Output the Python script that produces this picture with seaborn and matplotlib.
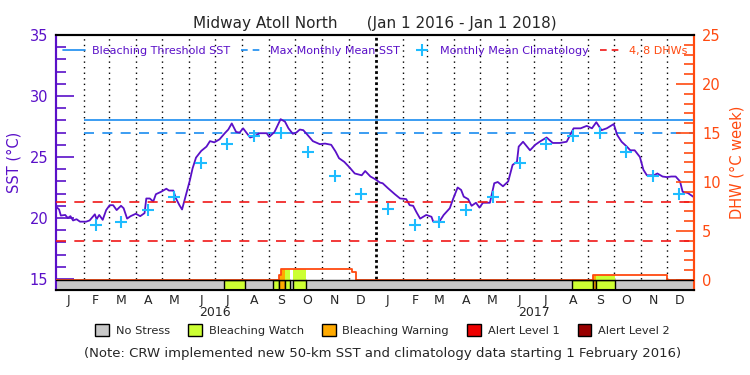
import pandas as pd
import numpy as np
import seaborn as sns
import matplotlib
matplotlib.use('Agg')
import matplotlib.pyplot as plt
from matplotlib.lines import Line2D
from matplotlib.patches import Patch

# ---- data ----
sst_dates = [
    '2016-01-01', '2016-01-04', '2016-01-06', '2016-01-11', '2016-01-14', '2016-01-17', '2016-01-20',
    '2016-01-24', '2016-01-28', '2016-02-04', '2016-02-08', '2016-02-11', '2016-02-14', '2016-02-16',
    '2016-02-19', '2016-02-23', '2016-02-27', '2016-03-02', '2016-03-06', '2016-03-10', '2016-03-15',
    '2016-03-18', '2016-03-22', '2016-03-26', '2016-04-01', '2016-04-06', '2016-04-11', '2016-04-13',
    '2016-04-17', '2016-04-21', '2016-04-24', '2016-04-30', '2016-05-06', '2016-05-09', '2016-05-14',
    '2016-05-17', '2016-05-21', '2016-05-24', '2016-05-27', '2016-05-30', '2016-06-02', '2016-06-05',
    '2016-06-09', '2016-06-15', '2016-06-21', '2016-06-25', '2016-06-30', '2016-07-06', '2016-07-12',
    '2016-07-16', '2016-07-20', '2016-07-25', '2016-07-29', '2016-08-02', '2016-08-10', '2016-08-15',
    '2016-08-21', '2016-08-29', '2016-09-01', '2016-09-07', '2016-09-14', '2016-09-19', '2016-09-23',
    '2016-09-28', '2016-10-02', '2016-10-06', '2016-10-10', '2016-10-15', '2016-10-21', '2016-10-29',
    '2016-11-04', '2016-11-11', '2016-11-16', '2016-11-20', '2016-11-26', '2016-12-02', '2016-12-08',
    '2016-12-16', '2016-12-20', '2016-12-26', '2016-12-31',
    '2017-01-06', '2017-01-09', '2017-01-15', '2017-01-23', '2017-01-29', '2017-02-05', '2017-02-09',
    '2017-02-13', '2017-02-17', '2017-02-21', '2017-02-28', '2017-03-06', '2017-03-08', '2017-03-15',
    '2017-03-20', '2017-03-27', '2017-03-31', '2017-04-05', '2017-04-09', '2017-04-12', '2017-04-17',
    '2017-04-21', '2017-04-26', '2017-04-30', '2017-05-04', '2017-05-12', '2017-05-17', '2017-05-21',
    '2017-05-27', '2017-06-02', '2017-06-07', '2017-06-12', '2017-06-14', '2017-06-19', '2017-06-27',
    '2017-07-03', '2017-07-08', '2017-07-16', '2017-07-23', '2017-07-31', '2017-08-08', '2017-08-16',
    '2017-08-24', '2017-08-31', '2017-09-06', '2017-09-11', '2017-09-17', '2017-09-23', '2017-10-01',
    '2017-10-05', '2017-10-10', '2017-10-16', '2017-10-20', '2017-10-25', '2017-10-31', '2017-11-04',
    '2017-11-08', '2017-11-16', '2017-11-20', '2017-11-26', '2017-12-01', '2017-12-06', '2017-12-11',
    '2017-12-16', '2017-12-19', '2017-12-25', '2017-12-31',
]
sst_values = [
    20.9, 20.7, 20.2, 20.25, 20.0, 20.15, 19.8,
    19.9, 19.7, 19.7, 19.8, 20.05, 20.3, 19.9,
    20.25, 19.85, 20.65, 21.05, 21.05, 20.65, 21.0,
    20.8, 19.95, 20.15, 20.35, 20.15, 20.4, 21.6,
    21.6, 21.35, 21.95, 22.15, 22.4, 22.25, 22.25,
    21.6, 21.05, 20.7, 21.5, 22.3, 23.1, 24.05,
    24.95, 25.5, 25.85, 26.3, 26.2, 26.45, 26.95,
    27.25, 27.75, 27.05, 27.0, 27.35, 26.6, 26.7,
    26.95, 26.95, 26.65, 27.05, 28.1, 27.9, 27.35,
    26.9, 27.0, 27.25, 27.2, 26.8, 26.3, 26.05,
    26.1, 26.0, 25.45, 24.9, 24.6, 24.15, 23.65,
    23.5, 23.85, 23.4, 23.2,
    22.9, 22.85, 22.45, 21.95, 21.6, 21.55, 21.05,
    21.0, 20.45, 19.95, 20.25, 20.1, 19.7, 19.7,
    20.25, 20.8, 21.6, 22.5, 22.3, 21.75, 21.55,
    21.0, 21.25, 20.85, 21.25, 21.25, 22.85, 22.95,
    22.6, 23.0, 24.35, 24.6, 25.85, 26.25, 25.55,
    26.0, 26.25, 26.6, 26.15, 26.15, 26.25, 27.35,
    27.35, 27.55, 27.35, 27.85, 27.2, 27.35, 27.7,
    26.8, 26.25, 25.85, 25.55, 25.55, 25.0, 23.95,
    23.5, 23.5, 23.65, 23.4, 23.35, 23.4, 23.4,
    23.0, 22.15, 22.05, 21.75,
]

# monthly mean climatology (crosses), Feb 2016 .. Dec 2017
clim_dates = ['2016-%02d-15' % m for m in range(2, 13)] + ['2017-%02d-15' % m for m in range(1, 13)]
clim_month = [20.7, 19.4, 19.7, 20.65, 21.7, 24.5, 26.05, 26.7, 27.0, 25.4, 23.45, 21.95]  # Jan..Dec
clim_values = clim_month[1:] + clim_month

mmm = 27.0
bleaching_threshold = 28.0
dhw_lines = [4, 8]

# degree heating weeks (step changes)
dhw_dates = ['2016-01-01', '2016-09-12', '2016-09-15', '2016-12-05', '2016-12-09',
             '2017-09-07', '2017-12-01', '2018-01-01']
dhw_values = [0, 0.55, 1.1, 0.82, 0, 0.5, 0, 0]

# bleaching alert status periods (1=watch, 2=warning)
stress_start = ['2016-07-11', '2016-09-05', '2016-09-12', '2016-09-19', '2016-09-28',
                '2017-08-14', '2017-09-07', '2017-09-11']
stress_end = ['2016-08-04', '2016-09-12', '2016-09-19', '2016-09-25', '2016-10-13',
              '2017-09-07', '2017-09-11', '2017-10-02']
stress_level = [1, 1, 2, 1, 1, 1, 2, 1]

stress_names = ['No Stress', 'Bleaching Watch', 'Bleaching Warning', 'Alert Level 1', 'Alert Level 2']
stress_colors = ['#c8c8c8', '#ccff33', '#ffaa00', '#ee0000', '#990000']

month_letters = ['J', 'F', 'M', 'A', 'M', 'J', 'J', 'A', 'S', 'O', 'N', 'D'] * 2
years = ['2016', '2017']

PURPLE = '#5a10c8'
ORANGE = '#ff4a10'
BLUE = '#1a8cf0'
CYAN = '#1ebcff'
RED = '#f01818'

sns.set_style('white')
plt.rcParams['font.family'] = ['DejaVu Sans']

fig = plt.figure(figsize=(7.5, 3.75), dpi=100)
ax = fig.add_axes([0.0753, 0.2267, 0.8500, 0.6800])
ax2 = ax.twinx()

t0, t1 = pd.Timestamp('2016-01-01'), pd.Timestamp('2018-01-01')
sst_bot = 14.1
dhw_bot = -1.02

sst_df = pd.DataFrame({'date': pd.to_datetime(sst_dates), 'sst': sst_values})
clim_df = pd.DataFrame({'date': pd.to_datetime(clim_dates), 'clim': clim_values})

# month grid
month_starts = pd.date_range('2016-02-01', '2017-12-01', freq='MS')
for d in month_starts:
    if d == pd.Timestamp('2017-01-01'):
        ax.vlines(d, 15, 35, colors='black', linestyles=(0, (1, 1)), lw=2, zorder=1)
    else:
        ax.vlines(d, 15, 35, colors='black', linestyles=(0, (1, 3)), lw=1, zorder=1)

ax.hlines(bleaching_threshold, pd.Timestamp('2016-02-01'), t1, color=BLUE, lw=1.2, zorder=2)
ax.hlines(mmm, pd.Timestamp('2016-02-01'), t1, color=BLUE, lw=1.2, linestyles=(0, (6, 5)), zorder=2)

sns.lineplot(data=sst_df, x='date', y='sst', ax=ax, color=PURPLE, lw=1.3, zorder=3)
sns.scatterplot(data=clim_df, x='date', y='clim', ax=ax, marker='+', s=70, linewidth=1.5,
                color=CYAN, zorder=4)

# stress bar
ax2.fill_between([t0, t1], dhw_bot, 0, color=stress_colors[0], lw=0, zorder=1)
dhw_daily = pd.Series(dhw_values, index=pd.to_datetime(dhw_dates)).resample('D').ffill()
for s, e, lev in zip(stress_start, stress_end, stress_level):
    s, e = pd.Timestamp(s), pd.Timestamp(e)
    ax2.fill_between([s, e], dhw_bot, 0, facecolor=stress_colors[lev], edgecolor='black', lw=1, zorder=2)
    seg = dhw_daily[s:e]
    ax2.fill_between(seg.index, 0, seg.values, step='post', color=stress_colors[lev], lw=0, zorder=2)

ax2.step(pd.to_datetime(dhw_dates), dhw_values, where='post', color=ORANGE, lw=1.3, zorder=4)
ax2.axhline(0, color='black', lw=1, zorder=5)
for v in dhw_lines:
    ax2.axhline(v, color=RED, lw=1.2, ls=(0, (6, 5)), zorder=3)

ax.set_xlim(t0, t1)
ax.set_ylim(sst_bot, 35)
ax2.set_ylim(dhw_bot, 25)

# axes styling
ax.set_yticks(range(15, 36, 5))
ax.set_yticks(range(15, 36), minor=True)
ax.tick_params(axis='y', which='both', direction='in', color=PURPLE, labelcolor=PURPLE,
               width=1.2, labelsize=10.5, pad=6, left=True)
ax.tick_params(axis='y', which='major', length=13)
ax.tick_params(axis='y', which='minor', length=7)
ax2.set_yticks(range(0, 26, 5))
ax2.set_yticks(range(0, 26), minor=True)
ax2.tick_params(axis='y', which='both', direction='in', color=ORANGE, labelcolor=ORANGE,
                width=1.2, labelsize=10.5, pad=6, right=True)
ax2.tick_params(axis='y', which='major', length=13)
ax2.tick_params(axis='y', which='minor', length=7)

mid_months = pd.date_range('2016-01-01', '2017-12-01', freq='MS') + pd.Timedelta(days=14)
ax.set_xticks(mid_months)
ax.set_xticklabels(month_letters)
ax.tick_params(axis='x', length=0, pad=3, labelsize=9)
ax.set_xlabel('')
ax.set_ylabel('SST (°C)', color=PURPLE, fontsize=10.5, labelpad=6)
ax2.set_ylabel('DHW (°C week)', color=ORANGE, fontsize=10.5, labelpad=6)
for i, y in enumerate(years):
    ax.text(pd.Timestamp(y + '-07-01'), -0.09, y, transform=ax.get_xaxis_transform(),
            ha='center', va='center', fontsize=9)

for a in (ax, ax2):
    a.spines['left'].set_color(PURPLE)
    a.spines['right'].set_color(ORANGE)
    a.spines['top'].set_color('black')
    a.spines['bottom'].set_color('black')
    for sp in a.spines.values():
        sp.set_linewidth(1.5)

ax.set_title('Midway Atoll North      (Jan 1 2016 - Jan 1 2018)', fontsize=11, pad=5)

handles = [
    Line2D([], [], color=BLUE, lw=1.2),
    Line2D([], [], color=BLUE, lw=1.2, ls=(0, (4, 3))),
    Line2D([], [], color=CYAN, lw=0, marker='+', markersize=8, markeredgewidth=1.5),
    Line2D([], [], color=RED, lw=1.2, ls=(0, (4, 3))),
]
labels = ['Bleaching Threshold SST', 'Max Monthly Mean SST', 'Monthly Mean Climatology', '4, 8 DHWs']
leg = ax2.legend(handles, labels, ncol=4, loc='center', bbox_to_anchor=(0.5, 0.937), frameon=False,
                 fontsize=8, handlelength=2.0, handletextpad=0.6, columnspacing=1.0)
for txt, c in zip(leg.get_texts(), [PURPLE, PURPLE, PURPLE, ORANGE]):
    txt.set_color(c)

patches = [Patch(facecolor=c, edgecolor='black', lw=1) for c in stress_colors]
fig.legend(patches, stress_names, ncol=5, loc='center', bbox_to_anchor=(0.51, 1 - 330 / 375),
           frameon=False, fontsize=8.2, handlelength=1.2, handleheight=1.2, handletextpad=0.6,
           columnspacing=1.6)
fig.text(0.51, 1 - 353 / 375,
         '(Note: CRW implemented new 50-km SST and climatology data starting 1 February 2016)',
         ha='center', va='center', fontsize=9.5)

fig.savefig('out.png', dpi=100)
